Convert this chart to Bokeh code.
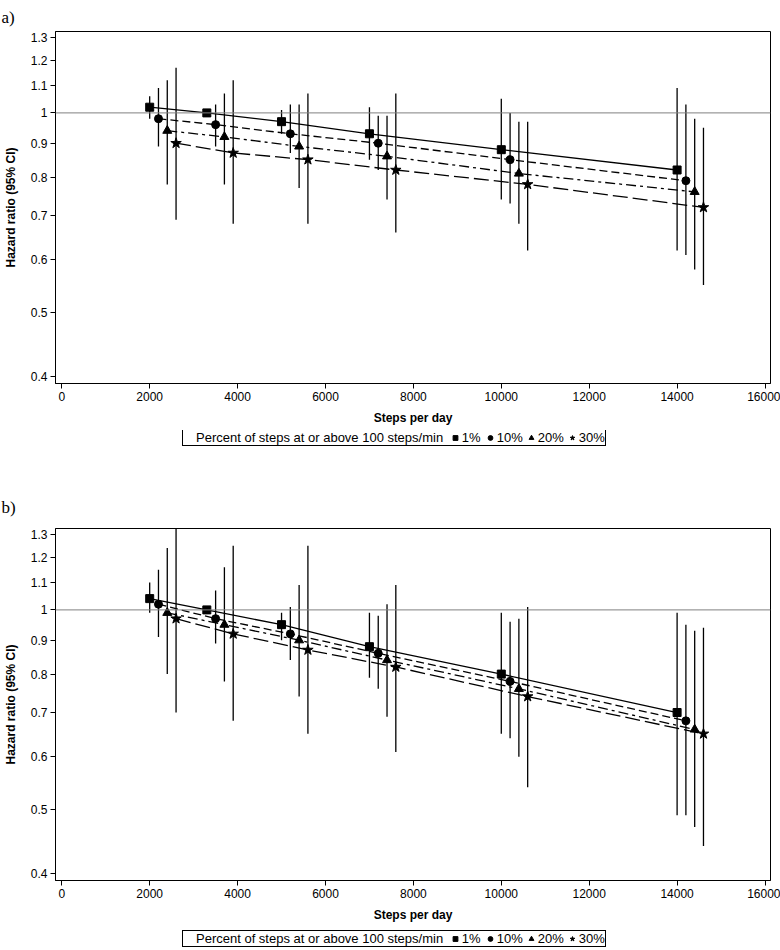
from bokeh.plotting import figure
from bokeh.models import (Range1d, FixedTicker, Span, Legend, LegendItem,
                          CustomJSTickFormatter)
from bokeh.layouts import column
from bokeh.embed import file_html
from bokeh.resources import INLINE

# ---------------- data ----------------
legend_title = "Percent of steps at or above 100 steps/min"
series = ["1%", "10%", "20%", "30%"]
x_ticks = [0, 2000, 4000, 6000, 8000, 10000, 12000, 14000, 16000]
y_ticks = [0.4, 0.5, 0.6, 0.7, 0.8, 0.9, 1.0, 1.1, 1.2, 1.3]

steps_1 = [2000, 3300, 5000, 7000, 10000, 14000]
steps_10 = [2200, 3500, 5200, 7200, 10200, 14200]
steps_20 = [2400, 3700, 5400, 7400, 10400, 14400]
steps_30 = [2600, 3900, 5600, 7600, 10600, 14600]

# panel a)
hr_a_1 = [1.02, 1.00, 0.97, 0.93, 0.88, 0.82]
lo_a_1 = [0.98, 1.00, 0.93, 0.85, 0.74, 0.62]
hi_a_1 = [1.06, 1.00, 1.01, 1.02, 1.05, 1.09]
hr_a_10 = [0.98, 0.96, 0.93, 0.90, 0.85, 0.79]
lo_a_10 = [0.89, 0.89, 0.87, 0.82, 0.73, 0.61]
hi_a_10 = [1.09, 1.03, 1.03, 0.99, 1.00, 1.03]
hr_a_20 = [0.94, 0.92, 0.89, 0.86, 0.81, 0.76]
lo_a_20 = [0.78, 0.78, 0.77, 0.74, 0.68, 0.58]
hi_a_20 = [1.12, 1.07, 1.03, 0.99, 0.97, 0.98]
hr_a_30 = [0.90, 0.87, 0.85, 0.82, 0.78, 0.72]
lo_a_30 = [0.69, 0.68, 0.68, 0.66, 0.62, 0.55]
hi_a_30 = [1.17, 1.12, 1.07, 1.07, 0.97, 0.95]

# panel b)
hr_b_1 = [1.04, 1.00, 0.95, 0.88, 0.80, 0.70]
lo_b_1 = [0.99, 1.00, 0.90, 0.79, 0.65, 0.49]
hi_b_1 = [1.10, 1.00, 0.99, 0.99, 0.99, 0.99]
hr_b_10 = [1.02, 0.97, 0.92, 0.86, 0.78, 0.68]
lo_b_10 = [0.91, 0.89, 0.84, 0.76, 0.64, 0.49]
hi_b_10 = [1.15, 1.07, 1.01, 0.98, 0.96, 0.95]
hr_b_20 = [0.99, 0.95, 0.90, 0.84, 0.76, 0.66]
lo_b_20 = [0.80, 0.78, 0.74, 0.69, 0.60, 0.47]
hi_b_20 = [1.24, 1.16, 1.09, 1.02, 0.97, 0.93]
hr_b_30 = [0.97, 0.92, 0.87, 0.82, 0.74, 0.65]
lo_b_30 = [0.70, 0.68, 0.65, 0.61, 0.54, 0.44]
hi_b_30 = [1.35, 1.25, 1.25, 1.09, 1.01, 0.94]

FONT = "Liberation Sans"
markers = ["square", "circle", "triangle", "star"]
msizes = [8, 8, 9, 11]
dashes = ["solid", "8 4", "10 4 3 4", "15 5"]
steps_all = [steps_1, steps_10, steps_20, steps_30]
W = 780


def make_panel(tag, hrs, los, his, height, top, bottom, title_standoff):
    p = figure(width=W, height=height, y_axis_type="log",
               x_range=Range1d(-143, 16125), y_range=Range1d(0.3904, 1.327),
               output_backend="svg", toolbar_location=None,
               min_border_left=55, min_border_right=10,
               min_border_top=top, min_border_bottom=bottom)
    p.background_fill_color = "white"
    p.border_fill_color = "white"
    p.outline_line_color = "black"
    p.outline_line_width = 1
    p.xgrid.visible = False
    p.ygrid.visible = False

    p.title.text = tag
    p.title.text_font = "Liberation Serif"
    p.title.text_font_size = "17px"
    p.title.text_font_style = "normal"
    p.title.text_color = "black"
    p.title.align = "left"
    p.title.offset = -54
    p.title.standoff = title_standoff

    p.xaxis.ticker = FixedTicker(ticks=x_ticks)
    p.yaxis.ticker = FixedTicker(ticks=y_ticks)
    p.yaxis.formatter = CustomJSTickFormatter(code="return String(Math.round(tick*10)/10);")
    for ax in (p.xaxis[0], p.yaxis[0]):
        ax.axis_line_color = "black"
        ax.major_tick_line_color = "black"
        ax.major_tick_out = 5
        ax.major_tick_in = 0
        ax.minor_tick_line_color = None
        ax.major_label_text_font = FONT
        ax.major_label_text_font_size = "12px"
        ax.major_label_text_color = "black"
        ax.axis_label_text_font = FONT
        ax.axis_label_text_font_size = "12px"
        ax.axis_label_text_font_style = "bold"
        ax.axis_label_text_color = "black"
        ax.major_label_standoff = 3
    p.xaxis.axis_label = "Steps per day"
    p.xaxis.axis_label_standoff = 7
    p.yaxis.axis_label = "Hazard ratio (95% CI)"
    p.yaxis.axis_label_standoff = 10

    p.add_layout(Span(location=1.0, dimension="width", line_color="#808080", line_width=1))

    for i in range(4):
        xs = steps_all[i]
        p.segment(x0=xs, y0=los[i], x1=xs, y1=his[i], line_color="black", line_width=1.3)
        p.line(xs, hrs[i], line_color="black", line_width=1.3, line_dash=dashes[i])
    for i in range(4):
        p.scatter(steps_all[i], hrs[i], marker=markers[i], size=msizes[i],
                  fill_color="black", line_color="black")
    return p


def make_legend_strip(height, loc_y):
    s = figure(width=W, height=height, x_range=Range1d(0, 1), y_range=Range1d(0, 1),
               output_backend="svg", toolbar_location=None, min_border=0,
               x_axis_location=None, y_axis_location=None)
    s.xgrid.visible = False
    s.ygrid.visible = False
    s.outline_line_color = None
    s.background_fill_color = "white"
    s.border_fill_color = "white"
    # off-frame points: only their legend glyphs are seen
    head = s.scatter(x=[-5], y=[-5], marker="square", size=0, fill_alpha=0, line_alpha=0)
    items = [LegendItem(label=legend_title + " ", renderers=[head])]
    for i in range(4):
        r = s.scatter(x=[-5], y=[-5], marker=markers[i], size=msizes[i],
                      fill_color="black", line_color="black")
        items.append(LegendItem(label=series[i], renderers=[r]))
    legend = Legend(items=items, orientation="horizontal", location=(127, loc_y),
                    border_line_color="black", border_line_width=1, border_line_alpha=1.0,
                    background_fill_color="white", background_fill_alpha=1.0,
                    padding=0, spacing=2, label_standoff=1, glyph_width=12,
                    glyph_height=15, label_height=13, margin=0,
                    label_text_font=FONT, label_text_font_size="13px",
                    label_text_color="black")
    s.add_layout(legend, "center")
    return s


p1 = make_panel("a)", [hr_a_1, hr_a_10, hr_a_20, hr_a_30],
                [lo_a_1, lo_a_10, lo_a_20, lo_a_30],
                [hi_a_1, hi_a_10, hi_a_20, hi_a_30], 430, 31, 47, 10)
leg1 = make_legend_strip(53, 37)
p2 = make_panel("b)", [hr_b_1, hr_b_10, hr_b_20, hr_b_30],
                [lo_b_1, lo_b_10, lo_b_20, lo_b_30],
                [hi_b_1, hi_b_10, hi_b_20, hi_b_30], 444, 45, 47, 24)
leg2 = make_legend_strip(23, 3)

layout = column(p1, leg1, p2, leg2, spacing=0)
open("out.html", "w").write(file_html(layout, INLINE))
